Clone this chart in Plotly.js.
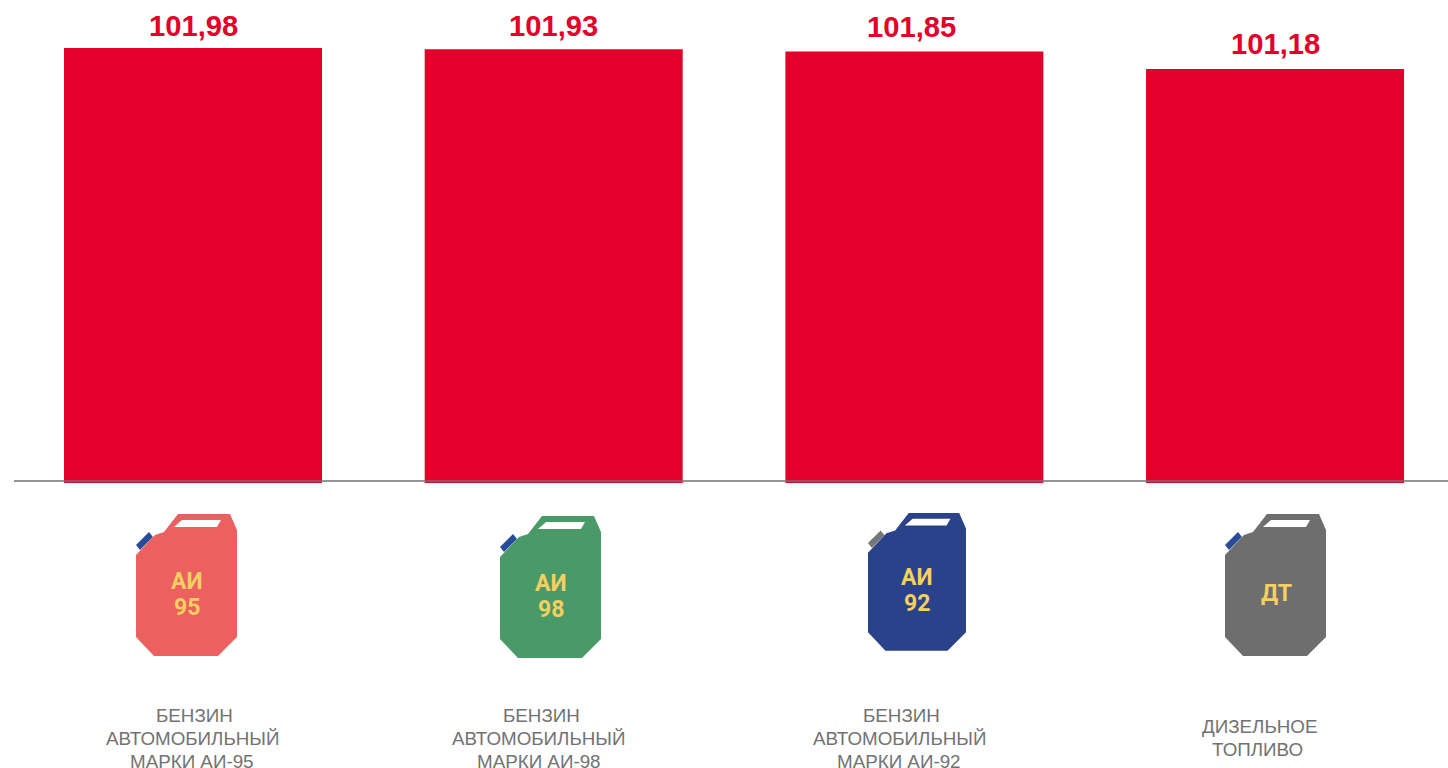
<!DOCTYPE html>
<html>
<head>
<meta charset="utf-8">
<script src="https://cdn.plot.ly/plotly-3.0.0.min.js"></script>
<style>html,body{margin:0;padding:0;background:#fff;overflow:hidden}#chart{width:1448px;height:768px}</style>
</head>
<body>
<div id="chart"></div>
<script>
const categories = ['АИ-95', 'АИ-98', 'АИ-92', 'ДТ'];
const values = [101.98, 101.93, 101.85, 101.18];
const labels = [
  ['БЕНЗИН', 'АВТОМОБИЛЬНЫЙ', 'МАРКИ АИ-95'],
  ['БЕНЗИН', 'АВТОМОБИЛЬНЫЙ', 'МАРКИ АИ-98'],
  ['БЕНЗИН', 'АВТОМОБИЛЬНЫЙ', 'МАРКИ АИ-92'],
  ['ДИЗЕЛЬНОЕ', 'ТОПЛИВО']
];
const labelX = [192, 538.5, 899, 1259.5];
const labelLineDx = [[2.5, 0, 0], [2.5, 0, 0], [2.5, 0, 0], [0, -2.5]];
const valueShiftX = [0, 0, -3, 0];
const valueShiftY = [22, 23, 24, 25];
const iconText = [['АИ', '95'], ['АИ', '98'], ['АИ', '92'], ['ДТ']];
const iconBody = ['#ec6060', '#4a9a68', '#2a4289', '#6e6e6e'];
const iconCap = ['#2a4a9a', '#2a4a9a', '#777777', '#2a4a9a'];
const iconDx = [0, 364, 732, 1089];
const iconDy = [0, 2, -1, 0];
const iconScale = [1, 1, 0.97, 1];

const W = 1448, H = 768, L = 14, B = 483;
const px = x => (x - L) / (W - L);
const py = y => (B - y) / B;

const bodyPts = [[178,514],[230,514],[237,530],[237,637],[218,656],[154,656],[136,637],[136,555],[155,535],[164,532]];
const capPts = [[136,545],[149,532],[153,537],[140,550]];
const holePts = [[182,520],[221,520],[217,527],[174,527]];

function pathOf(pts, i) {
  const s = iconScale[i];
  return pts.map((p, k) => {
    const x = 136 + iconDx[i] + (p[0] - 136) * s;
    const y = 514 + iconDy[i] + (p[1] - 514) * s;
    return (k ? 'L' : 'M') + px(x) + ',' + py(y);
  }).join(' ') + ' Z';
}

const shapes = [{
  type: 'line', xref: 'paper', yref: 'paper',
  x0: 0, x1: 1, y0: py(481), y1: py(481),
  line: {color: '#727272', width: 1.5}, layer: 'above'
}];
const annotations = [];

categories.forEach((c, i) => {
  [[capPts, iconCap[i]], [bodyPts, iconBody[i]], [holePts, '#ffffff']].forEach(([pts, col]) => {
    shapes.push({type: 'path', xref: 'paper', yref: 'paper', path: pathOf(pts, i), fillcolor: col, line: {width: 0}, layer: 'above'});
  });
  const s = iconScale[i];
  const rows = iconText[i];
  rows.forEach((t, k) => {
    const off = rows.length === 1 ? 79 : (k === 0 ? 67 : 93);
    annotations.push({
      xref: 'paper', yref: 'paper', showarrow: false,
      x: px(136 + iconDx[i] + 51 * s), y: py(514 + iconDy[i] + off * s),
      xanchor: 'center', yanchor: 'middle', align: 'center',
      text: '<b>' + t + '</b>',
      font: {family: 'Roboto, sans-serif', size: 23, color: '#f5cf62'}
    });
  });
  labels[i].forEach((t, k) => {
    annotations.push({
      xref: 'paper', yref: 'paper', showarrow: false,
      x: px(labelX[i] + labelLineDx[i][k]), y: py(738 + (k - (labels[i].length - 1) / 2) * 23),
      xanchor: 'center', yanchor: 'middle', align: 'center',
      text: t,
      font: {family: 'Liberation Sans, Arial, sans-serif', size: 18.8, color: '#727272'}
    });
  });
  annotations.push({
    xref: 'x', yref: 'y', showarrow: false,
    x: c, y: values[i], xshift: valueShiftX[i], yshift: valueShiftY[i],
    xanchor: 'center', yanchor: 'middle',
    text: '<b>' + values[i].toFixed(2).replace('.', ',') + '</b>',
    font: {family: 'Liberation Sans, Arial, sans-serif', size: 29.2, color: '#e3002b'}
  });
});

const trace = {
  type: 'bar', x: categories, y: values,
  marker: {color: '#e3002b', line: {width: 0}},
  hoverinfo: 'x+y'
};

const layout = {
  width: W, height: H,
  margin: {l: L, r: 0, t: 0, b: H - B, pad: 0},
  paper_bgcolor: '#fff', plot_bgcolor: '#fff',
  showlegend: false, bargap: 0.2847,
  xaxis: {type: 'category', range: [-0.4963, 3.4795], showticklabels: false, showgrid: false, zeroline: false, showline: false, ticks: ''},
  yaxis: {range: [85.41, 103.81], visible: false, showgrid: false, zeroline: false},
  shapes, annotations
};
Plotly.newPlot('chart', [trace], layout, {displayModeBar: false, staticPlot: true});
</script>
</body>
</html>
